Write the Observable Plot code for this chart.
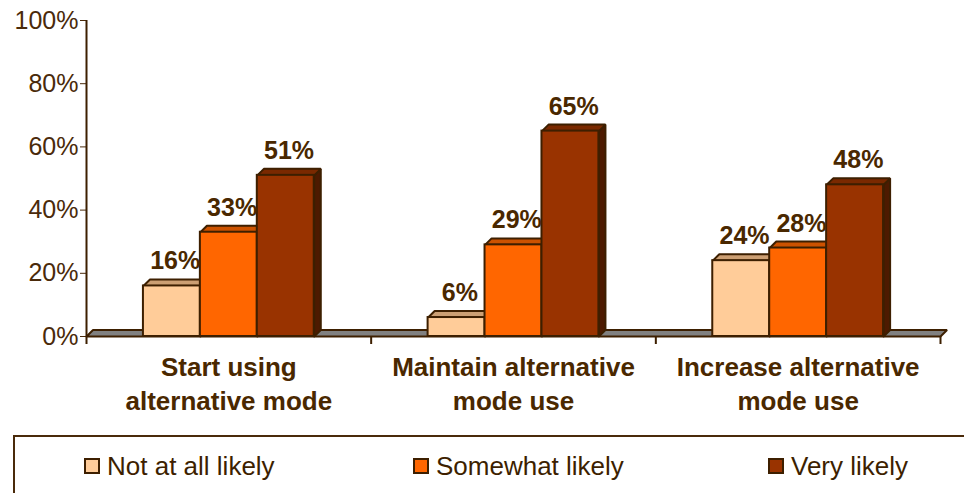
<!DOCTYPE html>
<html>
<head>
<meta charset="utf-8">
<script src="https://cdn.jsdelivr.net/npm/d3@7"></script>
<script src="https://cdn.jsdelivr.net/npm/@observablehq/plot@0.6"></script>
<style>
  body { margin: 0; background: #fff; font-family: Arial, "Liberation Sans", sans-serif; }
  #chart { position: relative; width: 964px; height: 493px; overflow: hidden; }
  #chart svg { display: block; }
  .legend { position: absolute; left: 13px; top: 435px; width: 1000px; height: 100px;
            border-top: 2px solid #4a2a0a; border-left: 2px solid #4a2a0a; }
  .item { position: absolute; top: 14px; height: 30px; line-height: 30px; display: flex;
          align-items: center; font-size: 26px; color: #3d1f00; white-space: nowrap; }
  .sw { width: 12px; height: 12px; border: 2px solid #3d1f00; margin-right: 7px; }
</style>
</head>
<body>
<div id="chart"></div>
<script>
// Survey shares by category and likelihood
const categories = ["Start using\nalternative mode", "Maintain alternative\nmode use", "Increase alternative\nmode use"];
const seriesNames = ["Not at all likely", "Somewhat likely", "Very likely"];
const notAtAllLikely = [16, 6, 24];
const somewhatLikely = [33, 29, 28];
const veryLikely = [51, 65, 48];
const yTicks = [0, 20, 40, 60, 80, 100];

const frontColors = ["#FFCC99", "#FF6600", "#993300"];
const topColors = ["#CC9F73", "#CC5200", "#7A2900"];
const sideColors = ["#A67C52", "#A34000", "#4D1A00"];
const ink = "#3d1f00";

// 3-D depth of bars and floor, in data units (category width / percent)
const depthX = 0.023;
const depthY = 2.05;
// each category band is split into five slots; the bars fill the middle three
const slot = 1 / 5;

const values = [notAtAllLikely, somewhatLikely, veryLikely];
const bars = [];
categories.forEach((c, i) => {
  values.forEach((vals, j) => {
    const x1 = i + (1 + j) * slot, x2 = i + (2 + j) * slot;
    bars.push({id: `${i}-${j}`, cat: i, series: j, x1, x2, v: vals[i]});
  });
});

// polygon vertices for the top and side faces
const topFaces = bars.flatMap(b => [
  [b.x1, b.v], [b.x2, b.v], [b.x2 + depthX, b.v + depthY], [b.x1 + depthX, b.v + depthY], [b.x1, b.v]
].map(([x, y]) => ({id: b.id, x, y, fill: topColors[b.series]})));

const sideFaces = bars.flatMap(b => [
  [b.x2, 0], [b.x2 + depthX, depthY], [b.x2 + depthX, b.v + depthY], [b.x2, b.v], [b.x2, 0]
].map(([x, y]) => ({id: b.id, x, y, fill: sideColors[b.series]})));

const floor = [[0, 0], [3, 0], [3 + depthX, depthY], [depthX, depthY], [0, 0]]
  .map(([x, y]) => ({x, y}));

const chart = Plot.plot({
  width: 964,
  height: 436,
  marginLeft: 86,
  marginRight: 24,
  marginTop: 20,
  marginBottom: 100,
  style: {fontFamily: "Arial, 'Liberation Sans', sans-serif", fontSize: "25px", color: "#4a2a0a", background: "transparent", overflow: "visible"},
  x: {domain: [0, 3], axis: null},
  y: {domain: [0, 100], ticks: yTicks, tickFormat: d => d + "%", tickSize: 6, tickPadding: 2, label: null},
  color: {type: "identity"},
  marks: [
    // floor plate
    Plot.line(floor, {x: "x", y: "y", fill: "#808080", stroke: ink, strokeWidth: 2, strokeLinejoin: "miter"}),
    // category boundary ticks below the axis
    Plot.ruleX([1, 2, 3], {y1: 0, y2: 0, insetBottom: -8, stroke: ink, strokeWidth: 2}),
    // bar faces
    Plot.line(sideFaces, {x: "x", y: "y", z: "id", fill: "fill", stroke: ink, strokeWidth: 2, strokeLinejoin: "miter"}),
    Plot.line(topFaces, {x: "x", y: "y", z: "id", fill: "fill", stroke: ink, strokeWidth: 2, strokeLinejoin: "miter"}),
    Plot.rect(bars, {x1: "x1", x2: "x2", y1: 0, y2: "v", fill: d => frontColors[d.series], stroke: ink, strokeWidth: 2}),
    // value labels
    Plot.text(bars, {x: d => (d.x1 + d.x2) / 2 + depthX / 2, y: d => d.v + depthY, text: d => d.v + "%",
      lineAnchor: "bottom", dy: -10, fontWeight: "bold", fontSize: 25, fill: "#4a2800"}),
    // y axis line
    Plot.ruleX([0], {y1: 100, y2: 0, insetBottom: -8, stroke: ink, strokeWidth: 2}),
    // category labels
    Plot.text(categories, {x: (d, i) => i + 0.5, y: 0, text: d => d, lineAnchor: "top", dy: 15,
      lineHeight: 1.31, fontWeight: "bold", fontSize: 26, fill: "#4a2800"})
  ]
});

const root = document.getElementById("chart");
root.appendChild(chart);

// legend
const legend = document.createElement("div");
legend.className = "legend";
const legendLeft = [69, 398, 753];
seriesNames.forEach((name, j) => {
  const item = document.createElement("div");
  item.className = "item";
  item.style.left = legendLeft[j] + "px";
  const sw = document.createElement("span");
  sw.className = "sw";
  sw.style.background = frontColors[j];
  const label = document.createElement("span");
  label.textContent = name;
  item.appendChild(sw);
  item.appendChild(label);
  legend.appendChild(item);
});
root.appendChild(legend);
</script>
</body>
</html>
